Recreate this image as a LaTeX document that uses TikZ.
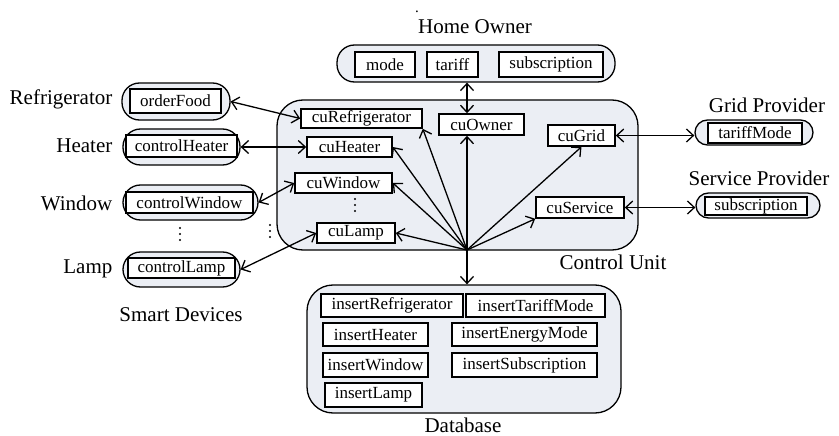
\documentclass[tikz,border=0pt]{standalone}
\usepackage{fontspec}
\setmainfont{Liberation Serif}
\usetikzlibrary{arrows.meta}

\definecolor{groupfill}{RGB}{235,238,244}

\tikzset{every picture/.style={line width=1.3pt}}
\tikzset{
  group/.style={draw, fill=groupfill, line width=1.3pt, inner sep=0pt},
  pill/.style={group, rounded corners=17.5pt},
  panel/.style={group, rounded corners=26pt},
  fbox/.style={draw, fill=white, line width=1.6pt, inner sep=0pt, font=\fontsize{17}{19}\selectfont},
  lbl/.style={inner sep=0pt, font=\fontsize{21}{24}\selectfont},
  link/.style={-{Straight Barb[length=7pt,width=13pt]}},
  biglink/.style={{Straight Barb[length=7pt,width=13pt]}-{Straight Barb[length=7pt,width=13pt]}}
}

\begin{document}
\begin{tikzpicture}[x=1pt,y=1pt,yscale=-1,xscale=1]
\useasboundingbox (0,0) rectangle (839,436);

% Containers
\node [pill, minimum width=278, minimum height=37] (owner) at (476,63.5) {};
\node [panel, minimum width=361, minimum height=150] (cu) at (457.5,175) {};
\node [panel, minimum width=314, minimum height=128] (db) at (464,349) {};
\node [pill, minimum width=108, minimum height=37] (fridge) at (176,101.5) {};
\node [pill, minimum width=117, minimum height=36] (heater) at (181.5,147) {};
\node [pill, minimum width=135, minimum height=35] (window) at (190.5,202.5) {};
\node [pill, minimum width=117, minimum height=35] (lamp) at (181.5,269.5) {};
\node [pill, rounded corners=12.5pt, minimum width=118, minimum height=25] (grid) at (754,132.5) {};
\node [pill, rounded corners=12.5pt, minimum width=124, minimum height=25] (service) at (758,205.5) {};

% Home owner boxes
\node [fbox, minimum width=60, minimum height=25] (mode) at (385,64.5) {mode};
\node [fbox, minimum width=51, minimum height=25] (tariff) at (452.5,64.5) {tariff};
\node [fbox, minimum width=104, minimum height=25] (subscr) at (551,64.5) {subscription};

% Device boxes
\node [fbox, minimum width=91, minimum height=24] (orderFood) at (175.5,101) {orderFood};
\node [fbox, minimum width=111, minimum height=22] (controlHeater) at (181.5,146) {controlHeater};
\node [fbox, minimum width=127, minimum height=21] (controlWindow) at (189.5,202.5) {controlWindow};
\node [fbox, minimum width=107, minimum height=20] (controlLamp) at (181.5,268) {controlLamp};

% Provider boxes
\node [fbox, minimum width=94, minimum height=20] (tariffMode) at (755,133) {tariffMode};
\node [fbox, minimum width=102, minimum height=18] (subscrService) at (756,206) {subscription};

% Control unit boxes
\node [fbox, minimum width=121, minimum height=19] (cuRefrigerator) at (361.5,118.5) {cuRefrigerator};
\node [fbox, minimum width=85, minimum height=21] (cuOwner) at (481.5,124.5) {cuOwner};
\node [fbox, minimum width=67, minimum height=21] (cuGrid) at (581.5,135.5) {cuGrid};
\node [fbox, minimum width=85, minimum height=20] (cuHeater) at (349.5,147) {cuHeater};
\node [fbox, minimum width=97, minimum height=20] (cuWindow) at (343.5,183) {cuWindow};
\node [fbox, minimum width=78, minimum height=20] (cuLamp) at (356,233) {cuLamp};
\node [fbox, minimum width=88, minimum height=21] (cuService) at (580,207.5) {cuService};

% Database boxes
\node [fbox, minimum width=142, minimum height=23] (insertRefrigerator) at (392,305.5) {insertRefrigerator};
\node [fbox, minimum width=139, minimum height=23] (insertTariffMode) at (535.5,305.5) {insertTariffMode};
\node [fbox, minimum width=105, minimum height=23] (insertHeater) at (375.5,334.5) {insertHeater};
\node [fbox, minimum width=145, minimum height=23] (insertEnergyMode) at (524.5,334.5) {insertEnergyMode};
\node [fbox, minimum width=105, minimum height=24] (insertWindow) at (375.5,365) {insertWindow};
\node [fbox, minimum width=145, minimum height=24] (insertSubscription) at (524.5,365) {insertSubscription};
\node [fbox, minimum width=97, minimum height=24] (insertLamp) at (373.5,395) {insertLamp};

% Dots
\foreach \dx/\dy in {180/228, 270/225, 355/199}
  \foreach \k in {0,1,2}
    \fill (\dx,\dy+6*\k) circle (1.1pt);

% Text Node
\node [inner sep=0pt, anchor=base, font=\fontsize{15}{17}\selectfont] (topdot) at (417,13) {.};
\node [lbl] (ownerLabel) at (475,27) {Home Owner};
\node [lbl, anchor=east] (fridgeLabel) at (113,99) {Refrigerator};
\node [lbl, anchor=east] (heaterLabel) at (113,146) {Heater};
\node [lbl, anchor=east] (windowLabel) at (113,203) {Window};
\node [lbl, anchor=east] (lampLabel) at (113,269) {Lamp};
\node [lbl] (devicesLabel) at (181,315) {Smart Devices};
\node [lbl] (cuLabel) at (613,262) {Control Unit};
\node [lbl] (gridLabel) at (767,105) {Grid Provider};
\node [lbl] (serviceLabel) at (759,178) {Service Provider};
\node [lbl] (dbLabel) at (463,425) {Database};

% Hub
\coordinate (hub) at (467,250);

%Straight Lines
\draw [link] (hub) -- (cuRefrigerator.south east);
\draw [link] (hub) -- (hub |- cuOwner.south);
\draw [link] (hub) -- (cuHeater.east);
\draw [link] (hub) -- (cuWindow.east);
\draw [link] (hub) -- (cuLamp.east);
\draw [link] (hub) -- (cuGrid.south);
\draw [link] (hub) -- (cuService.south west);
\draw [link] (hub) -- (hub |- db.north);
\draw [biglink] (hub |- owner.south) -- (hub |- cuOwner.north);
\draw [biglink] (fridge.east) -- (cuRefrigerator.west);
\draw [biglink] (heater.east) -- (heater.east -| cuHeater.west);
\draw [biglink] (window.east) -- (cuWindow.west);
\draw [biglink] (lamp.east) -- (cuLamp.west);
\draw [biglink] (cuGrid.east) -- (cuGrid.east -| grid.west);
\draw [biglink] (cuService.east) -- (cuService.east -| service.west);

\end{tikzpicture}
\end{document}
